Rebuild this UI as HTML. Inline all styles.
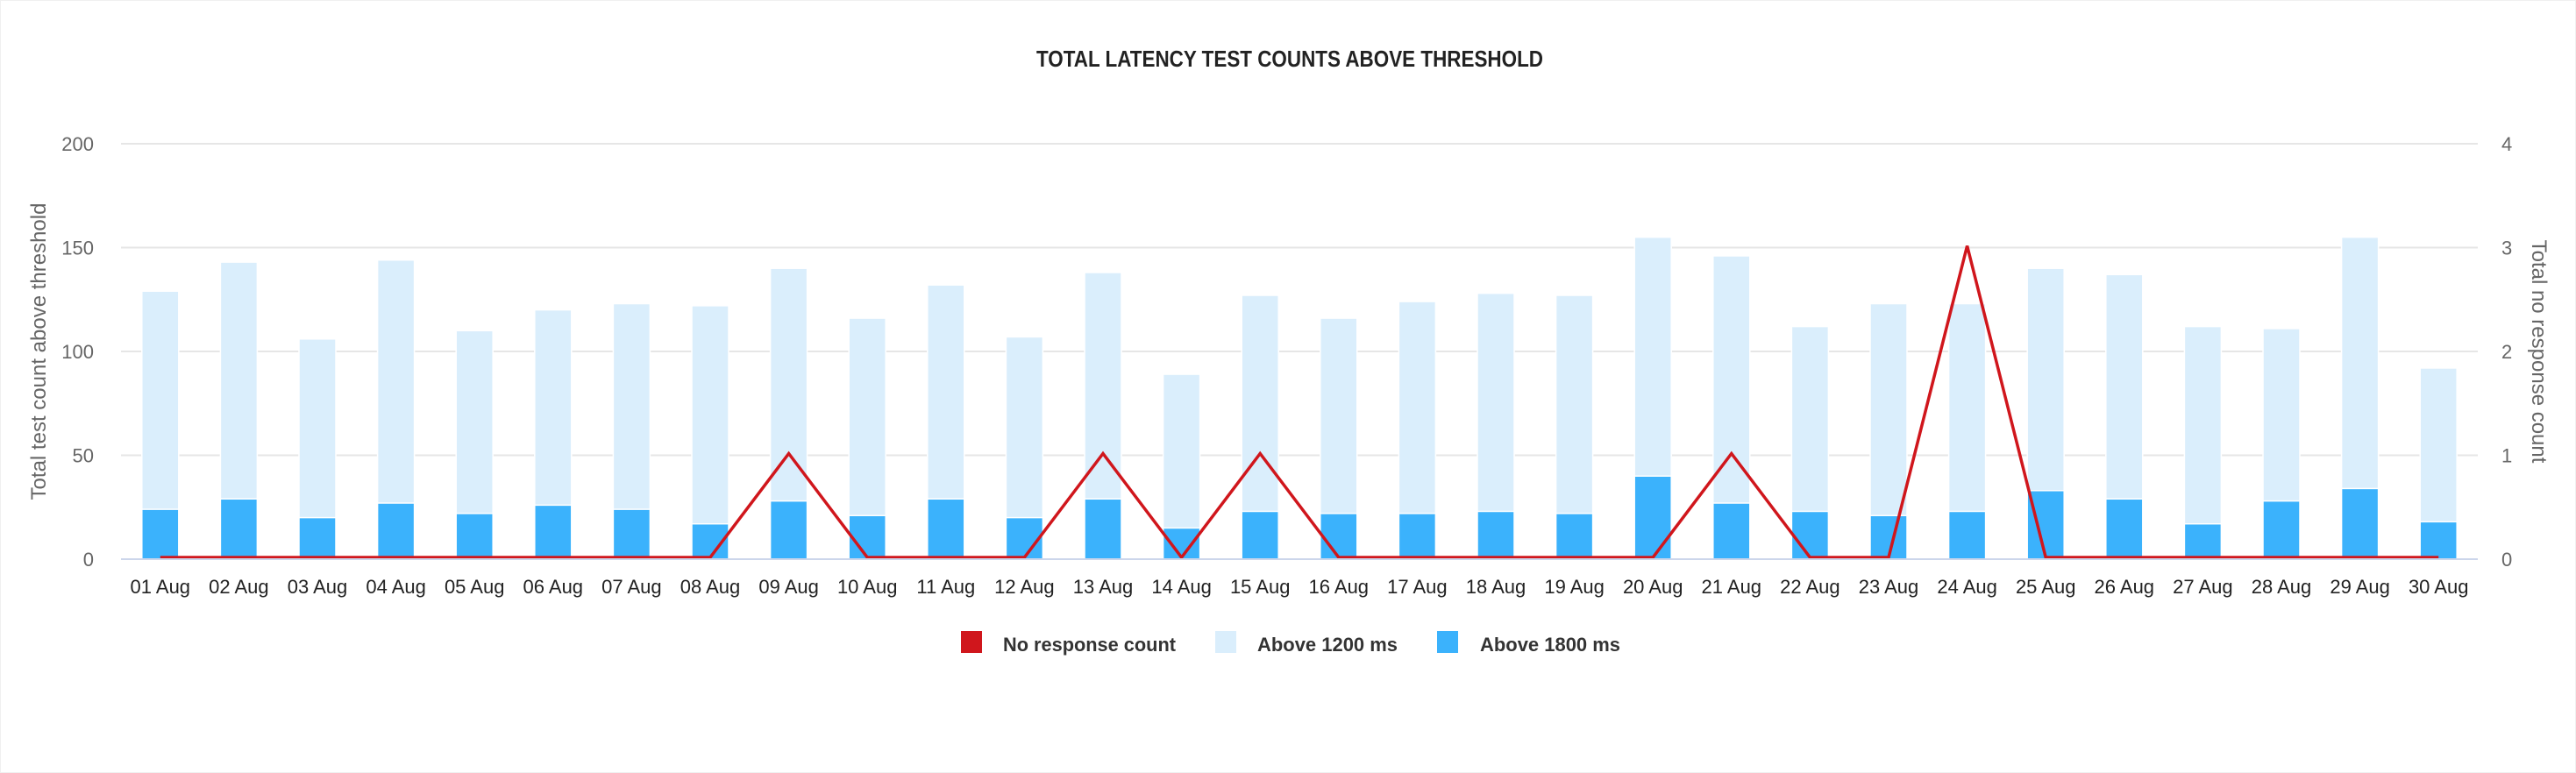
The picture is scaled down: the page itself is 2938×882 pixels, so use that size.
<!DOCTYPE html>
<html><head><meta charset="utf-8"><style>
html,body{margin:0;padding:0;background:#fff;}
svg{display:block;font-family:"Liberation Sans",sans-serif;}
</style></head><body>
<svg id="chart" width="2938" height="882" viewBox="0 0 2938 882" xmlns="http://www.w3.org/2000/svg">
<rect x="0.5" y="0.5" width="2937" height="881" fill="#fff" stroke="#f0f0f0"/>
<text x="1471" y="76" text-anchor="middle" font-size="26" font-weight="bold" fill="#222" textLength="578" lengthAdjust="spacingAndGlyphs">TOTAL LATENCY TEST COUNTS ABOVE THRESHOLD</text>
<g id="grid"></g><g id="bars"></g><g id="line"></g><g id="axes"></g>
<text transform="translate(52,401) rotate(-90)" text-anchor="middle" font-size="24" fill="#666">Total test count above threshold</text>
<text transform="translate(2888,401) rotate(90)" text-anchor="middle" font-size="24" fill="#666">Total no response count</text>
<g>
<g><rect x="1096" y="720" width="24" height="25" fill="#d0161c"/><text x="1144" y="743" font-size="22" font-weight="bold" fill="#333" textLength="197" lengthAdjust="spacingAndGlyphs">No response count</text></g>
<g><rect x="1386" y="720" width="24" height="25" fill="#daeefc"/><text x="1434" y="743" font-size="22" font-weight="bold" fill="#333" textLength="160" lengthAdjust="spacingAndGlyphs">Above 1200 ms</text></g>
<g><rect x="1639" y="720" width="24" height="25" fill="#3bb2fc"/><text x="1688" y="743" font-size="22" font-weight="bold" fill="#333" textLength="160" lengthAdjust="spacingAndGlyphs">Above 1800 ms</text></g>
</g>
</svg>
<script>
const categories=["01 Aug","02 Aug","03 Aug","04 Aug","05 Aug","06 Aug","07 Aug","08 Aug","09 Aug","10 Aug","11 Aug","12 Aug","13 Aug","14 Aug","15 Aug","16 Aug","17 Aug","18 Aug","19 Aug","20 Aug","21 Aug","22 Aug","23 Aug","24 Aug","25 Aug","26 Aug","27 Aug","28 Aug","29 Aug","30 Aug"];
const above1200=[129,143,106,144,110,120,123,122,140,116,132,107,138,89,127,116,124,128,127,155,146,112,123,123,140,137,112,111,155,92];
const above1800=[24,29,20,27,22,26,24,17,28,21,29,20,29,15,23,22,22,23,22,40,27,23,21,23,33,29,17,28,34,18];
const noResponse=[0,0,0,0,0,0,0,0,1,0,0,0,1,0,1,0,0,0,0,0,1,0,0,3,0,0,0,0,0,0];
const leftTicks=[0,50,100,150,200];
const rightTicks=[0,1,2,3,4];
const NS="http://www.w3.org/2000/svg";
const L=138,R=2826,T=164,B=638;
const band=(R-L)/categories.length;
const xc=i=>L+band*(i+0.5);
const yL=v=>B-(v/200)*(B-T);
const yR=v=>B-(v/4)*(B-T);
function mk(tag,attrs,parent){const e=document.createElementNS(NS,tag);for(const k in attrs)e.setAttribute(k,attrs[k]);parent.appendChild(e);return e;}
const grid=document.getElementById('grid'),bars=document.getElementById('bars'),line=document.getElementById('line'),axes=document.getElementById('axes');
leftTicks.forEach((t,i)=>{
  if(t>0){const g=mk('line',{x1:L,x2:R,y1:yL(t),y2:yL(t),stroke:'#e6e6e6','stroke-width':2},grid);
  
  }
  const tl=mk('text',{x:107,y:yL(t)+8,'text-anchor':'end','font-size':22,fill:'#666'},axes);tl.textContent=t;
  
  
});
rightTicks.forEach(t=>{
  const tr=mk('text',{x:2853,y:yR(t)+8,'font-size':22,fill:'#666'},axes);tr.textContent=t;
  
  
});
const bw=42;
categories.forEach((c,i)=>{
  const x=xc(i)-bw/2;
  const b1=mk('rect',{x:x,y:yL(above1200[i]),width:bw,height:B-yL(above1200[i]),fill:'#daeefc',stroke:'#fff','stroke-width':1.5},bars);
  
  
  const b2=mk('rect',{x:x,y:yL(above1800[i]),width:bw,height:B-yL(above1800[i]),fill:'#3bb2fc',stroke:'#fff','stroke-width':1.5},bars);
  
  
  const lb=mk('text',{x:xc(i),y:677,'text-anchor':'middle','font-size':22,fill:'#222'},axes);lb.textContent=c;
  
  
});
const base=mk('line',{x1:L,x2:R,y1:B,y2:B,stroke:'#ccd6eb','stroke-width':2},axes);


const pts=noResponse.map((v,i)=>xc(i)+','+(yR(v)-2)).join(' ');
const pl=mk('polyline',{points:pts,fill:'none',stroke:'#d0161c','stroke-width':3.5,'stroke-linejoin':'miter'},line);


</script>
</body></html>
